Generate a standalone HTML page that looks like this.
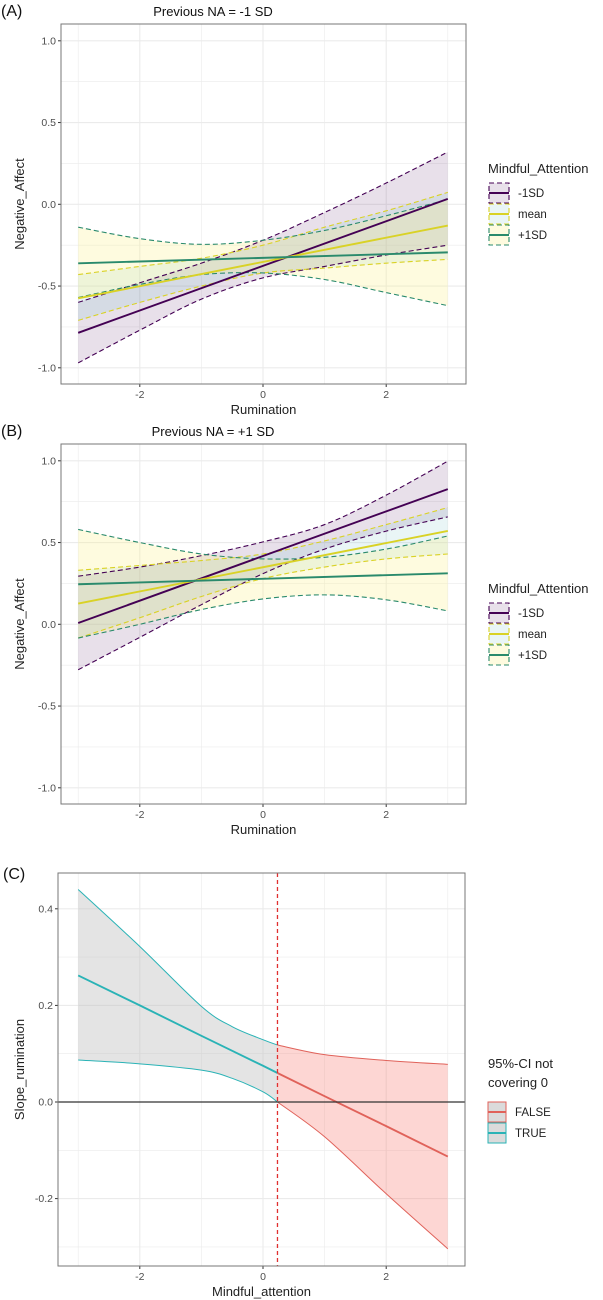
<!DOCTYPE html>
<html><head><meta charset="utf-8"><style>
body{margin:0;background:#fff;width:603px;height:1300px;overflow:hidden}
svg{display:block}
text{font-family:"Liberation Sans",sans-serif}
</style></head><body>
<svg id="fig" width="603" height="1300" viewBox="0 0 603 1300" xmlns="http://www.w3.org/2000/svg"></svg>
<script>
// ---- data ----
const ciX = [-3,-2,-1,0,1,2,3];
const lineX = [-3,3];
// Panel A (Previous NA = -1 SD)
const aLowLine = [-0.786, 0.033];
const aLowUpper = [-0.60,-0.48,-0.36,-0.22,-0.05,0.13,0.32];
const aLowLower = [-0.97,-0.77,-0.58,-0.45,-0.38,-0.31,-0.25];
const aMeanLine = [-0.575,-0.13];
const aMeanUpper = [-0.43,-0.38,-0.33,-0.25,-0.14,-0.04,0.073];
const aMeanLower = [-0.71,-0.60,-0.50,-0.42,-0.39,-0.36,-0.337];
const aHighLine = [-0.361,-0.294];
const aHighUpper = [-0.14,-0.21,-0.245,-0.22,-0.16,-0.07,0.03];
const aHighLower = [-0.57,-0.49,-0.43,-0.42,-0.46,-0.54,-0.62];
// Panel B (Previous NA = +1 SD)
const bLowLine = [0.008,0.827];
const bLowUpper = [0.294,0.35,0.42,0.504,0.61,0.79,0.998];
const bLowLower = [-0.278,-0.08,0.12,0.31,0.46,0.57,0.657];
const bMeanLine = [0.127,0.571];
const bMeanUpper = [0.33,0.36,0.39,0.43,0.51,0.61,0.714];
const bMeanLower = [-0.084,0.04,0.17,0.28,0.35,0.40,0.43];
const bHighLine = [0.245,0.312];
const bHighUpper = [0.58,0.50,0.43,0.40,0.41,0.46,0.54];
const bHighLower = [-0.084,0.0,0.09,0.155,0.18,0.15,0.082];
const abYTicks = [-1.0,-0.5,0.0,0.5,1.0];
const abYTickLabels = ["-1.0","-0.5","0.0","0.5","1.0"];
const xTicks = [-2,0,2];
const xTickLabels = ["-2","0","2"];
// Panel C (Johnson-Neyman)
const cX = [-3,-2,-1,-0.5,0,0.235,1,2,3];
const cUpper = [0.44,0.322,0.198,0.156,0.129,0.118,0.098,0.086,0.078];
const cLower = [0.087,0.079,0.066,0.049,0.021,0.0,-0.072,-0.19,-0.304];
const cSlope = [0.262,0.200,0.137,0.106,0.075,0.060,0.012,-0.050,-0.113];
const jnPoint = [0.235];
const cYTicks = [-0.2,0.0,0.2,0.4];
const cYTickLabels = ["-0.2","0.0","0.2","0.4"];

const NS="http://www.w3.org/2000/svg";
const svg=document.getElementById('fig');
function el(tag,attrs,parent){const e=document.createElementNS(NS,tag);for(const k in attrs)e.setAttribute(k,attrs[k]);(parent||svg).appendChild(e);return e;}
function txt(s,attrs,parent){const e=el('text',attrs,parent);e.textContent=s;return e;}
function smooth(pts){let d='M'+pts[0][0]+','+pts[0][1];for(let i=0;i<pts.length-1;i++){const p0=pts[Math.max(0,i-1)],p1=pts[i],p2=pts[i+1],p3=pts[Math.min(pts.length-1,i+2)];const c1=[p1[0]+(p2[0]-p0[0])/6,p1[1]+(p2[1]-p0[1])/6],c2=[p2[0]-(p3[0]-p1[0])/6,p2[1]-(p3[1]-p1[1])/6];d+=' C'+c1+' '+c2+' '+p2;}return d;}
function smoothRev(pts){return smooth(pts.slice().reverse()).replace(/^M/,' L');}

const X0=263, XS=61.6;
const sx=v=>X0+v*XS;

function frame(g,L,R,T,B,sy,yt,ytl,ymin,xlab,ylab){
  el('rect',{x:L,y:T,width:R-L,height:B-T,fill:'#fff'},g);
  const grid=el('g',{stroke:'#ebebeb'},g);
  
  [-3,-1,1,3].forEach(v=>el('line',{x1:sx(v),x2:sx(v),y1:T,y2:B,'stroke-width':0.6},grid));
  xTicks.forEach(v=>el('line',{x1:sx(v),x2:sx(v),y1:T,y2:B,'stroke-width':1.1},grid));
  ymin.forEach(v=>el('line',{x1:L,x2:R,y1:sy(v),y2:sy(v),'stroke-width':0.6},grid));
  yt.forEach(v=>el('line',{x1:L,x2:R,y1:sy(v),y2:sy(v),'stroke-width':1.1},grid));
  const ya=el('g',{},g);
  yt.forEach((v,i)=>{el('line',{x1:L-3,x2:L,y1:sy(v),y2:sy(v),stroke:'#333'},ya);txt(ytl[i],{x:L-5,y:sy(v)+3.5,'text-anchor':'end','font-size':10.5,fill:'#4d4d4d'},ya);});
  const xa=el('g',{},g);
  xTicks.forEach((v,i)=>{el('line',{x1:sx(v),x2:sx(v),y1:B,y2:B+3,stroke:'#333'},xa);txt(xTickLabels[i],{x:sx(v),y:B+14,'text-anchor':'middle','font-size':10.5,fill:'#4d4d4d'},xa);});
  const xt=txt(xlab,{x:(L+R)/2,y:B+30,'text-anchor':'middle','font-size':13,fill:'#222'},g);
  
  const cy=(T+B)/2;
  const yl=txt(ylab,{x:0,y:0,transform:`translate(24,${cy}) rotate(-90)`,'text-anchor':'middle','font-size':13,fill:'#222'},g);
  
}

const groups=[{name:'-1SD',col:'#440154',fill:'rgba(68,1,84,0.12)'},{name:'mean',col:'#d9d226',fill:'rgba(120,190,200,0.16)'},{name:'+1SD',col:'#2a8a6c',fill:'rgba(250,240,140,0.28)'}];

function panelAB(label,title,oy,data){
  const g=el('g',{});
  const L=61,R=466,T=oy+24,B=oy+384;
  const Y0=oy+204.3, YS=163.5;
  const sy=v=>Y0-v*YS;
  const pl=txt(label,{x:1,y:oy+16,'font-size':16,fill:'#111'},g);
  const pt=txt(title,{x:213,y:oy+16,'text-anchor':'middle','font-size':13,fill:'#111'},g);
  frame(g,L,R,T,B,sy,abYTicks,abYTickLabels,[-0.75,-0.25,0.25,0.75],'Rumination','Negative_Affect');
  data.forEach((d,i)=>{
    const up=ciX.map((x,j)=>[sx(x),sy(d.upper[j])]), lo=ciX.map((x,j)=>[sx(x),sy(d.lower[j])]);
    const band=el('path',{d:smooth(up)+smoothRev(lo)+' Z',fill:groups[i].fill,stroke:'none'},g);
    
  });
  data.forEach((d,i)=>{
    ['upper','lower'].forEach(k=>{
      const pts=ciX.map((x,j)=>[sx(x),sy(d[k][j])]);
      const p=el('path',{d:smooth(pts),fill:'none',stroke:groups[i].col,'stroke-width':1.1,'stroke-dasharray':'5,3'},g);
      
    });
  });
  data.forEach((d,i)=>{
    const p=el('line',{x1:sx(lineX[0]),y1:sy(d.line[0]),x2:sx(lineX[1]),y2:sy(d.line[1]),stroke:groups[i].col,'stroke-width':1.9},g);
    
  });
  el('rect',{x:L,y:T,width:R-L,height:B-T,fill:'none',stroke:'#777','stroke-width':1},g);
  const lg=el('g',{},g);
  const lt=txt('Mindful_Attention',{x:488,y:oy+173,'font-size':13,fill:'#222'},lg);
  groups.forEach((gr,i)=>{
    const cy=oy+193+i*21;
    const e=el('g',{},lg);
    el('rect',{x:489,y:cy-10,width:20,height:20,fill:gr.fill,stroke:gr.col,'stroke-dasharray':'5,3','stroke-width':1.1},e);
    el('line',{x1:489,x2:509,y1:cy,y2:cy,stroke:gr.col,'stroke-width':1.9},e);
    txt(gr.name,{x:518,y:cy+4,'font-size':11.5,fill:'#222'},e);
  });
}

panelAB('(A)','Previous NA = -1 SD',0,[
  {line:aLowLine,upper:aLowUpper,lower:aLowLower},
  {line:aMeanLine,upper:aMeanUpper,lower:aMeanLower},
  {line:aHighLine,upper:aHighUpper,lower:aHighLower}]);
panelAB('(B)','Previous NA = +1 SD',420,[
  {line:bLowLine,upper:bLowUpper,lower:bLowLower},
  {line:bMeanLine,upper:bMeanUpper,lower:bMeanLower},
  {line:bHighLine,upper:bHighUpper,lower:bHighLower}]);

// Panel C
(function(){
  const g=el('g',{});
  const L=58,R=465,T=873,B=1266;
  const Y0=1102, YS=483;
  const sy=v=>Y0-v*YS;
  const pl=txt('(C)',{x:3,y:879,'font-size':16,fill:'#111'},g);
  frame(g,L,R,T,B,sy,cYTicks,cYTickLabels,[-0.3,-0.1,0.1,0.3],'Mindful_attention','Slope_rumination');
  const k=cX.indexOf(jnPoint[0]);
  const segs=[{from:0,to:k,col:'#2ab3b6',fill:'rgba(190,190,190,0.42)',name:'true'},{from:k,to:cX.length-1,col:'#e0625a',fill:'rgba(248,118,109,0.3)',name:'false'}];
  segs.forEach(s=>{
    const up=[],lo=[],md=[];
    for(let i=s.from;i<=s.to;i++){up.push([sx(cX[i]),sy(cUpper[i])]);lo.push([sx(cX[i]),sy(cLower[i])]);md.push([sx(cX[i]),sy(cSlope[i])]);}
    const b=el('path',{d:smooth(up)+smoothRev(lo)+' Z',fill:s.fill},g);
    const u=el('path',{d:smooth(up),fill:'none',stroke:s.col,'stroke-width':1},g);
    const l=el('path',{d:smooth(lo),fill:'none',stroke:s.col,'stroke-width':1},g);
    const m=el('polyline',{points:md.map(p=>p.join(',')).join(' '),fill:'none',stroke:s.col,'stroke-width':1.9},g);
  });
  const z=el('line',{x1:L,x2:R,y1:sy(0),y2:sy(0),stroke:'#333','stroke-width':1.3},g);
  const v=el('line',{x1:sx(jnPoint[0]),x2:sx(jnPoint[0]),y1:T,y2:B,stroke:'#e03030','stroke-width':1.3,'stroke-dasharray':'4,3'},g);
  el('rect',{x:L,y:T,width:R-L,height:B-T,fill:'none',stroke:'#777','stroke-width':1},g);
  const lg=el('g',{},g);
  const t1=txt('95%-CI not',{x:488,y:1068,'font-size':13,fill:'#222'},lg);
  txt('covering 0',{x:488,y:1087,'font-size':13,fill:'#222'},lg);
  [{n:'FALSE',c:'#e0625a'},{n:'TRUE',c:'#2ab3b6'}].forEach((e,i)=>{
    const cy=1112+i*21;
    const ge=el('g',{},lg);
    el('rect',{x:488,y:cy-10,width:18,height:20,fill:'rgba(190,190,190,0.55)',stroke:e.c,'stroke-width':1},ge);
    el('line',{x1:488,x2:506,y1:cy,y2:cy,stroke:e.c,'stroke-width':1.9},ge);
    txt(e.n,{x:515,y:cy+4,'font-size':11.5,fill:'#222'},ge);
  });
})();
</script>
</body></html>
